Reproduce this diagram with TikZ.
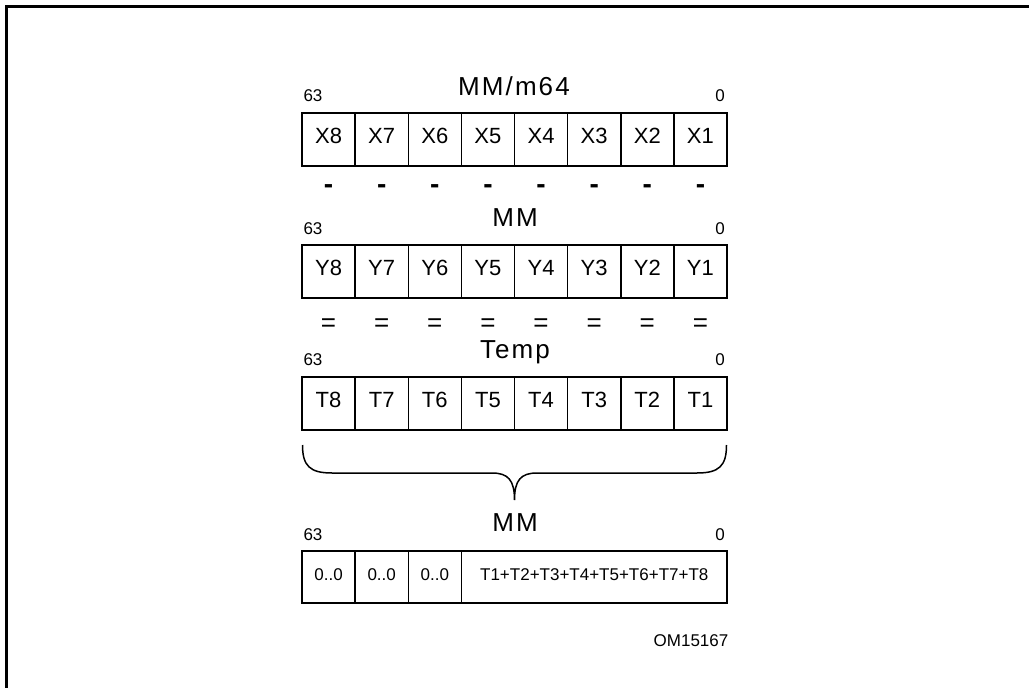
\documentclass[tikz,border=0pt]{standalone}
\usepackage{fontspec}
\setmainfont{Liberation Sans}
\begin{document}
\begin{tikzpicture}[x=1pt,y=-1pt,
  cell/.style={draw, line width=1.5pt, inner sep=0pt, minimum height=53pt, minimum width=53.125pt, text height=0.716em, text depth=0pt, font=\fontsize{22}{22}\selectfont},
  title/.style={inner sep=0pt, text height=0.716em, text depth=0pt, font=\fontsize{26}{26}\selectfont\addfontfeature{LetterSpace=8}},
  bit/.style={inner sep=0pt, text height=0.716em, text depth=0pt, font=\fontsize{17}{17}\selectfont},
  op/.style={inner sep=0pt, font=\fontsize{26}{26}\selectfont},
  sumcell/.style={draw, line width=1.5pt, inner sep=0pt, minimum height=52pt, text height=0.716em, text depth=0pt, font=\fontsize{17}{17}\selectfont}]
\useasboundingbox (0,0) rectangle (1029,688);
\draw[line width=3pt] (6,688) -- (6,6) -- (1029,6);
% row 1
\node[title] (t1title) at (514,92) {MM/m64};
\node[bit] (r1hi) at (313,98) {63};
\node[bit] (r1lo) at (720,98) {0};
\foreach \j in {0,...,7} {
  \pgfmathtruncatemacro{\k}{8-\j}
  \node[cell] (x\k) at (328.56+53.125*\j,139.5) {X\k};
  \node[op, font=\fontsize{28}{28}\selectfont\bfseries] (m\k) at (328.56+53.125*\j,189) {-};
}
% row 2
\node[title] (t2title) at (515,223) {MM};
\node[bit] (r2hi) at (313,231) {63};
\node[bit] (r2lo) at (720,231) {0};
\foreach \j in {0,...,7} {
  \pgfmathtruncatemacro{\k}{8-\j}
  \node[cell] (y\k) at (328.56+53.125*\j,271.5) {Y\k};
  \node[op] (e\k) at (328.56+53.125*\j,325.5) {=};
}
% row 3
\node[title] (t3title) at (515,355) {Temp};
\node[bit] (r3hi) at (313,362) {63};
\node[bit] (r3lo) at (720,362) {0};
\foreach \j in {0,...,7} {
  \pgfmathtruncatemacro{\k}{8-\j}
  \node[cell] (t\k) at (328.56+53.125*\j,403.5) {T\k};
}
% brace
\draw[line width=1.5pt] (302.5,445) .. controls (302.5,466) and (310,473) .. (332,473)
  -- (492,473) .. controls (508,473) and (514.5,480) .. (514.5,500)
  .. controls (514.5,480) and (521,473) .. (537,473)
  -- (697,473) .. controls (719,473) and (726.5,466) .. (726.5,445);
% row 4
\node[title] (t4title) at (515,528) {MM};
\node[bit] (r4hi) at (313,537) {63};
\node[bit] (r4lo) at (720,537) {0};
\foreach \j in {0,...,2} {
  \node[cell, minimum height=52pt, font=\fontsize{17}{17}\selectfont] (z\j) at (328.56+53.125*\j,577) {0..0};
}
\node[sumcell, minimum width=265.5pt] (zsum) at (594.25,577) {T1+T2+T3+T4+T5+T6+T7+T8};
\node[bit] (om) at (691,643) {OM15167};
\end{tikzpicture}
\end{document}
